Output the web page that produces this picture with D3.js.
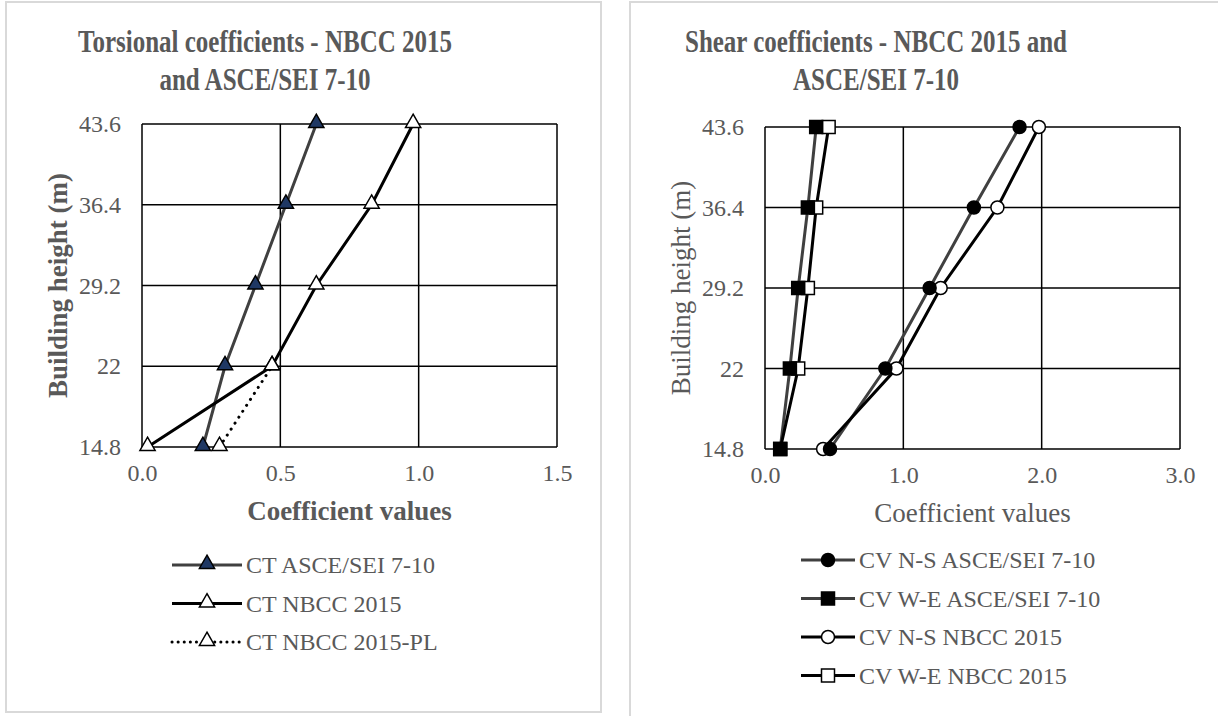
<!DOCTYPE html>
<html>
<head>
<meta charset="utf-8">
<script src="https://cdn.jsdelivr.net/npm/d3@7"></script>
<style>
    body { margin: 0; background: #fff; }
    svg text { font-family: "Liberation Serif", "Times New Roman", serif; fill: #595959; }
</style>
</head>
<body>
<svg id="chart" width="1218" height="716"></svg>
<script>

const heights = [14.8, 22, 29.2, 36.4, 43.6];

// torsional coefficients
const ctAsce = [0.22, 0.30, 0.41, 0.52, 0.63];
const ctNbcc = [0.02, 0.47, 0.63, 0.83, 0.98];
const ctNbccPl = [0.28, 0.47, null, null, null];
const ctTicks = [0, 0.5, 1.0, 1.5];

// shear coefficients
const cvNsAsce = [0.47, 0.87, 1.19, 1.51, 1.84];
const cvWeAsce = [0.11, 0.18, 0.24, 0.31, 0.37];
const cvNsNbcc = [0.42, 0.95, 1.27, 1.68, 1.98];
const cvWeNbcc = [0.11, 0.24, 0.31, 0.37, 0.46];
const cvTicks = [0, 1.0, 2.0, 3.0];

const svg = d3.select("#chart");

function drawMarker(g, shape, x, y, fill) {
    if (shape === "triangle") {
        g.append("path")
            .attr("d", d3.symbol().type(d3.symbolTriangle).size(100)())
            .attr("transform", `translate(${x},${y - 1})`)
            .attr("fill", fill)
            .attr("stroke", "#000")
            .attr("stroke-width", 1.5);
    } else if (shape === "circle") {
        g.append("circle")
            .attr("cx", x).attr("cy", y).attr("r", 6.5)
            .attr("fill", fill)
            .attr("stroke", "#000")
            .attr("stroke-width", 1.5);
    } else {
        g.append("rect")
            .attr("x", x - 6.5).attr("y", y - 6.5)
            .attr("width", 13).attr("height", 13)
            .attr("fill", fill)
            .attr("stroke", "#000")
            .attr("stroke-width", 1.5);
    }
}

function drawPanel(p) {
    const g = svg.append("g");

    g.append("rect")
        .attr("x", p.box[0]).attr("y", p.box[1])
        .attr("width", p.box[2]).attr("height", p.box[3])
        .attr("fill", "#fff")
        .attr("stroke", "#d9d9d9")
        .attr("stroke-width", 2);

    const x = d3.scaleLinear().domain(p.xDomain).range([p.left, p.right]);
    const y = d3.scaleLinear().domain([heights[0], heights[heights.length - 1]]).range([p.bottom, p.top]);

    // title (the original is drawn a bit taller than wide)
    p.title.forEach((t, i) => {
        g.append("text")
            .attr("transform", `translate(${p.titleX},${52 + i * 38}) scale(1,1.3)`)
            .attr("text-anchor", "middle")
            .style("font-size", "25px")
            .style("font-weight", "bold")
            .text(t);
    });

    // grid
    g.selectAll(".hgrid")
        .data(heights)
        .enter()
        .append("line")
        .attr("x1", p.left).attr("x2", p.right)
        .attr("y1", d => y(d)).attr("y2", d => y(d))
        .attr("stroke", "#000").attr("stroke-width", 1.5);

    g.selectAll(".vgrid")
        .data(p.xTicks)
        .enter()
        .append("line")
        .attr("x1", d => x(d)).attr("x2", d => x(d))
        .attr("y1", p.top).attr("y2", p.bottom)
        .attr("stroke", "#000").attr("stroke-width", 1.5);

    // axes labels
    const yAxis = d3.axisLeft(y).tickValues(heights).tickSize(0).tickPadding(21)
        .tickFormat(d => String(d));
    const ya = g.append("g").attr("transform", `translate(${p.left},0)`).call(yAxis);
    ya.select(".domain").remove();
    ya.selectAll("text").style("font-size", "24px").attr("fill", "#595959");

    const xAxis = d3.axisBottom(x).tickValues(p.xTicks).tickSize(0).tickPadding(17)
        .tickFormat(d3.format(".1f"));
    const xa = g.append("g").attr("transform", `translate(0,${p.bottom})`).call(xAxis);
    xa.select(".domain").remove();
    xa.selectAll("text").style("font-size", "24px").attr("fill", "#595959");

    g.append("text")
        .attr("x", (p.left + p.right) / 2)
        .attr("y", p.bottom + 73)
        .attr("text-anchor", "middle")
        .style("font-size", "27px")
        .style("font-weight", p.bold ? "bold" : "normal")
        .text("Coefficient values");

    g.append("text")
        .attr("transform", `translate(${p.yTitleX},${(p.top + p.bottom) / 2}) rotate(-90)`)
        .attr("text-anchor", "middle")
        .style("font-size", "27px")
        .style("font-weight", p.bold ? "bold" : "normal")
        .text("Building height (m)");

    // series
    const line = d3.line()
        .defined(d => d.v !== null)
        .x(d => x(d.v))
        .y(d => y(d.h));

    p.series.forEach(s => {
        const pts = s.values.map((v, i) => ({ v: v, h: heights[i] }));
        g.append("path")
            .datum(pts)
            .attr("d", line)
            .attr("fill", "none")
            .attr("stroke", s.color)
            .attr("stroke-width", 3)
            .attr("stroke-dasharray", s.dotted ? "0.1 7" : null)
            .attr("stroke-linecap", s.dotted ? "round" : "butt");
    });

    p.series.slice().reverse().forEach(s => {
        s.values.forEach((v, i) => {
            if (v !== null) drawMarker(g, s.shape, x(v), y(heights[i]), s.fill);
        });
    });

    // legend
    p.series.forEach((s, i) => {
        const ly = p.legendY + i * p.legendStep;
        g.append("line")
            .attr("x1", p.legendX).attr("x2", p.legendX + p.legendW)
            .attr("y1", ly).attr("y2", ly)
            .attr("stroke", s.color)
            .attr("stroke-width", 3)
            .attr("stroke-dasharray", s.dotted ? "0.1 6" : null)
            .attr("stroke-linecap", s.dotted ? "round" : "butt");
        drawMarker(g, s.shape, p.legendX + p.legendW / 2, ly, s.fill);
        g.append("text")
            .attr("x", p.legendX + p.legendW + 4)
            .attr("y", ly)
            .attr("dy", "0.35em")
            .style("font-size", "24px")
            .text(s.name);
    });
}

drawPanel({
    box: [6, 2, 595, 710],
    left: 142, right: 557, top: 124, bottom: 447,
    xDomain: [0, 1.5], xTicks: ctTicks,
    title: ["Torsional coefficients - NBCC 2015", "and ASCE/SEI 7-10"],
    titleX: 265, yTitleX: 67, bold: true,
    legendX: 172, legendW: 70, legendY: 565, legendStep: 38.5,
    series: [
        { name: "CT ASCE/SEI 7-10", values: ctAsce, color: "#404040", shape: "triangle", fill: "#1f3864" },
        { name: "CT NBCC 2015", values: ctNbcc, color: "#000", shape: "triangle", fill: "#fff" },
        { name: "CT NBCC 2015-PL", values: ctNbccPl, color: "#000", shape: "triangle", fill: "#fff", dotted: true }
    ]
});

drawPanel({
    box: [630, 2, 600, 720],
    left: 765, right: 1180, top: 127, bottom: 449,
    xDomain: [0, 3], xTicks: cvTicks,
    title: ["Shear coefficients - NBCC 2015 and", "ASCE/SEI 7-10"],
    titleX: 876, yTitleX: 690, bold: false,
    legendX: 801, legendW: 54, legendY: 560, legendStep: 38.5,
    series: [
        { name: "CV N-S ASCE/SEI 7-10", values: cvNsAsce, color: "#404040", shape: "circle", fill: "#000" },
        { name: "CV W-E ASCE/SEI 7-10", values: cvWeAsce, color: "#404040", shape: "square", fill: "#000" },
        { name: "CV N-S NBCC 2015", values: cvNsNbcc, color: "#000", shape: "circle", fill: "#fff" },
        { name: "CV W-E NBCC 2015", values: cvWeNbcc, color: "#000", shape: "square", fill: "#fff" }
    ]
});
</script>
</body>
</html>
